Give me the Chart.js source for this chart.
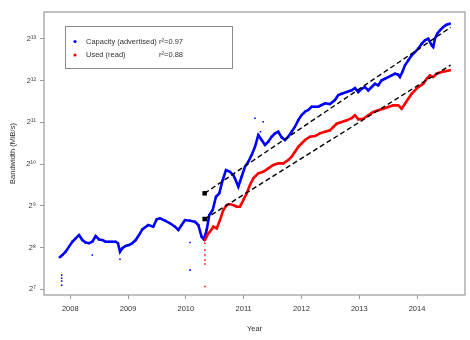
<!DOCTYPE html>
<html>
<head>
<meta charset="utf-8">
<script src="https://cdn.jsdelivr.net/npm/chart.js@4/dist/chart.umd.min.js"></script>
<style>
  html, body { margin: 0; padding: 0; background: #fff; }
  #wrap { width: 470px; height: 340px; }
</style>
</head>
<body>
<div id="wrap"><canvas id="c" width="470" height="340"></canvas></div>
<script>
// Advertised capacity (MiB/s) over time
const capYears = [2007.817,2007.862,2007.920,2007.978,2008.035,2008.093,2008.151,2008.208,2008.266,2008.324,
  2008.381,2008.439,2008.497,2008.554,2008.612,2008.670,2008.727,2008.785,2008.825,2008.860,
  2008.900,2008.958,2009.016,2009.073,2009.131,2009.189,2009.246,2009.349,2009.436,2009.495,
  2009.552,2009.638,2009.725,2009.811,2009.869,2009.927,2009.984,2010.071,2010.157,2010.215,
  2010.273,2010.313,2010.360,2010.405,2010.464,2010.521,2010.578,2010.637,2010.694,2010.763,
  2010.820,2010.849,2010.907,2010.965,2011.022,2011.080,2011.138,2011.196,2011.253,2011.311,
  2011.369,2011.426,2011.484,2011.542,2011.599,2011.657,2011.715,2011.772,2011.830,2011.888,
  2011.945,2012.003,2012.061,2012.118,2012.176,2012.234,2012.291,2012.349,2012.407,2012.493,
  2012.580,2012.637,2012.696,2012.782,2012.869,2012.926,2012.983,2013.042,2013.099,2013.156,
  2013.215,2013.272,2013.329,2013.388,2013.445,2013.502,2013.561,2013.618,2013.675,2013.704,
  2013.751,2013.791,2013.848,2013.907,2013.964,2014.021,2014.080,2014.137,2014.194,2014.253,
  2014.280,2014.310,2014.349,2014.396,2014.453,2014.512,2014.569];
const capMiBs = [218,226,239,260,282,298,315,290,278,275,
  282,310,293,290,282,282,282,282,275,239,
  253,263,267,275,290,315,346,372,362,409,
  416,400,383,362,343,372,404,400,393,372,
  306,293,343,439,477,595,630,785,927,901,
  853,807,702,829,979,1064,1189,1364,1657,1525,
  1404,1483,1611,1704,1750,1595,1525,1611,1750,1902,
  2124,2310,2440,2509,2651,2651,2651,2726,2804,2771,
  2961,3218,3289,3381,3478,3613,3381,3573,3674,3478,
  3674,3881,3779,4107,4218,4338,4461,4583,4508,4338,
  4768,5268,5722,6217,6567,6935,7537,7972,8192,7342,
  7136,8192,8899,9420,9948,10340,10520];
// Isolated capacity readings away from the main trace
const capStrayYears = [2007.851,2007.851,2007.851,2007.851,2008.381,2008.860,2010.071,2010.071,2011.196,2011.339,2011.290];
const capStrayMiBs  = [162,154,147,137,226,211,278,176,2186,2065,1750];

// Used (read) bandwidth (MiB/s) over time
const usedYears = [2010.330,2010.388,2010.417,2010.474,2010.533,2010.590,2010.647,2010.706,2010.763,2010.820,
  2010.879,2010.936,2010.993,2011.052,2011.109,2011.166,2011.253,2011.339,2011.426,2011.512,
  2011.599,2011.685,2011.772,2011.830,2011.888,2011.945,2012.003,2012.061,2012.147,2012.234,
  2012.320,2012.407,2012.493,2012.550,2012.609,2012.696,2012.782,2012.869,2012.926,2012.983,
  2013.069,2013.156,2013.242,2013.329,2013.415,2013.502,2013.588,2013.675,2013.734,2013.791,
  2013.848,2013.907,2013.964,2014.021,2014.107,2014.166,2014.223,2014.280,2014.339,2014.426,
  2014.483,2014.569];
const usedMiBs = [290,324,333,362,352,404,477,518,527,518,
  504,504,563,630,723,807,877,901,953,1007,
  1036,1036,1095,1157,1255,1364,1443,1525,1611,1629,
  1704,1750,1791,1892,1999,2055,2114,2195,2299,2151,
  2171,2299,2427,2496,2564,2636,2712,2712,2564,2785,
  3025,3289,3478,3674,3881,4218,4461,4338,4583,4713,
  4768,4851];
const usedStrayYears = [2010.330,2010.330,2010.330,2010.330,2010.330,2010.330];
const usedStrayMiBs  = [275,246,226,208,195,134];

// Log-linear fits (start and end of each trend line)
const fitYears    = [2010.325, 2014.581];
const fitCapMiBs  = [630, 9896];
const fitUsedMiBs = [411, 5293];

// Axis ticks
const yearTicks = [2008, 2009, 2010, 2011, 2012, 2013, 2014];
const bandwidthTicks = [128, 256, 512, 1024, 2048, 4096, 8192];

const pts = (xs, ys) => xs.map((x, i) => ({ x: x, y: ys[i] }));
const SUP = { '0':'⁰','1':'¹','2':'²','3':'³','4':'⁴','5':'⁵','6':'⁶','7':'⁷','8':'⁸','9':'⁹' };
const sup = n => String(n).split('').map(c => SUP[c]).join('');

const FONT = '"Liberation Sans", Arial, "DejaVu Sans", sans-serif';
const TEXT = '#333333';
const FRAME = '#9a9a9a';

// Box around the plot region plus the in-plot legend
const framePlugin = {
  id: 'frameAndLegend',
  afterDraw(chart) {
    const { ctx, chartArea: a } = chart;
    ctx.save();
    ctx.strokeStyle = FRAME;
    ctx.lineWidth = 1.2;
    ctx.strokeRect(a.left, a.top, a.right - a.left, a.bottom - a.top);

    // legend
    ctx.strokeStyle = '#8a8a8a';
    ctx.lineWidth = 1;
    ctx.strokeRect(65.5, 26.5, 167, 42);
    ctx.fillStyle = '#0000ff';
    ctx.beginPath(); ctx.arc(75, 41.5, 1.6, 0, Math.PI * 2); ctx.fill();
    ctx.fillStyle = '#ff0000';
    ctx.beginPath(); ctx.arc(75, 55, 1.6, 0, Math.PI * 2); ctx.fill();
    ctx.fillStyle = TEXT;
    ctx.font = '7.5px ' + FONT;
    ctx.textBaseline = 'middle';
    ctx.textAlign = 'left';
    ctx.fillText('Capacity (advertised)', 86, 41.5);
    ctx.fillText('r²=0.97', 159, 41.5);
    ctx.fillText('Used (read)', 86, 55);
    ctx.fillText('r²=0.88', 159, 55);
    ctx.restore();
  }
};

const trace = (label, data, color, order) => ({
  label, data, order,
  showLine: true, tension: 0,
  borderColor: color, borderWidth: 2.6,
  pointStyle: 'rect', pointRadius: 1.5, pointBorderWidth: 0,
  pointBackgroundColor: color
});
const stray = (label, data, color) => ({
  label, data, order: 3,
  showLine: false,
  pointStyle: 'rect', pointRadius: 1.1, pointBorderWidth: 0,
  pointBackgroundColor: color
});
const fit = (label, data) => ({
  label, data, order: 0,
  showLine: true, tension: 0,
  borderColor: '#000', borderWidth: 1.4, borderDash: [5, 3],
  pointStyle: 'rect',
  pointRadius: ctx => ctx.dataIndex === 0 ? 3.2 : 0,
  pointBorderWidth: 0,
  pointBackgroundColor: '#000'
});

new Chart(document.getElementById('c'), {
  type: 'scatter',
  data: {
    datasets: [
      fit('Capacity fit', pts(fitYears, fitCapMiBs)),
      fit('Used fit', pts(fitYears, fitUsedMiBs)),
      trace('Capacity (advertised)', pts(capYears, capMiBs), '#0000ff', 2),
      trace('Used (read)', pts(usedYears, usedMiBs), '#ff0000', 1),
      stray('Capacity stray', pts(capStrayYears, capStrayMiBs), '#0000ff'),
      stray('Used stray', pts(usedStrayYears, usedStrayMiBs), '#ff0000')
    ]
  },
  options: {
    responsive: false,
    animation: false,
    devicePixelRatio: 1,
    layout: { padding: { top: 12, right: 5, left: 0, bottom: 0 } },
    plugins: { legend: { display: false }, tooltip: { enabled: false } },
    scales: {
      x: {
        type: 'linear',
        min: 2007.545, max: 2014.83,
        afterBuildTicks: s => { s.ticks = yearTicks.map(v => ({ value: v })); },
        afterFit: s => { s.height = 45; },
        ticks: {
          color: TEXT, font: { family: FONT, size: 7.5 }, padding: 5,
          maxRotation: 0, callback: v => String(v)
        },
        grid: { drawOnChartArea: false, drawTicks: true, tickLength: 4, color: FRAME, lineWidth: 1 },
        border: { display: false },
        title: {
          display: true, text: 'Year', color: TEXT,
          font: { family: FONT, size: 7.5 }, padding: { top: 0, bottom: 7 }
        }
      },
      y: {
        type: 'logarithmic',
        min: 116.5, max: 12765,
        afterBuildTicks: s => { s.ticks = bandwidthTicks.map(v => ({ value: v })); },
        afterFit: s => { s.width = 44; },
        ticks: {
          color: TEXT, font: { family: FONT, size: 7.5 }, padding: 4,
          callback: v => '2' + sup(Math.round(Math.log2(v)))
        },
        grid: { drawOnChartArea: false, drawTicks: true, tickLength: 4, color: FRAME, lineWidth: 1 },
        border: { display: false },
        title: {
          display: true, text: 'Bandwidth (MiB/s)', color: TEXT,
          font: { family: FONT, size: 7.5 }, padding: { top: 8, bottom: 0 }
        }
      }
    }
  },
  plugins: [framePlugin]
});
</script>
</body>
</html>
